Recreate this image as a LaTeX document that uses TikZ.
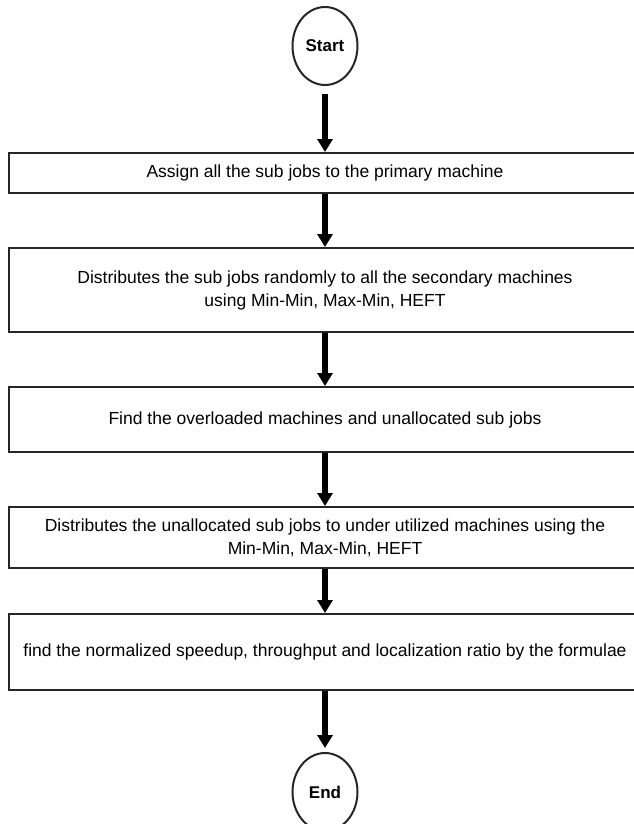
\documentclass[tikz,border=0pt]{standalone}
\usepackage{fontspec}
\setmainfont{Liberation Sans}
\usetikzlibrary{arrows.meta,shapes.geometric}
\begin{document}
\begin{tikzpicture}[x=1pt,y=-1pt,
  boxnode/.style={draw=black!85, line width=2pt, minimum width=632pt, inner sep=0pt, align=center, font=\fontsize{17.5}{23}\selectfont},
  term/.style={draw=black!85, line width=2pt, ellipse, minimum width=65pt, minimum height=78pt, inner sep=0pt, font=\bfseries\fontsize{17}{20}\selectfont},
  flow/.style={line width=6pt, -{Triangle[width=15pt,length=13pt]}}]
\useasboundingbox (0,0) rectangle (633,824);
\node[term] (start) at (325,46) {Start};
\node[boxnode, minimum height=40pt] (b1) at (325,173) {Assign all the sub jobs to the primary machine};
\node[boxnode, minimum height=84pt] (b2) at (325,290) {Distributes the sub jobs randomly to all the secondary machines\\using Min-Min, Max-Min, HEFT};
\node[boxnode, minimum height=65pt] (b3) at (325,419.5) {Find the overloaded machines and unallocated sub jobs};
\node[boxnode, minimum height=61pt] (b4) at (325,537.5) {Distributes the unallocated sub jobs to under utilized machines using the\\Min-Min, Max-Min, HEFT};
\node[boxnode, minimum height=76pt] (b5) at (325,652) {find the normalized speedup, throughput and localization ratio by the formulae};
\node[term] (end) at (325,792) {End};
\draw[flow, shorten <=8pt] (start) -- (b1);
\draw[flow] (b1) -- (b2);
\draw[flow] (b2) -- (b3);
\draw[flow] (b3) -- (b4);
\draw[flow] (b4) -- (b5);
\draw[flow, shorten >=4pt] (b5) -- (end);
\end{tikzpicture}
\end{document}
